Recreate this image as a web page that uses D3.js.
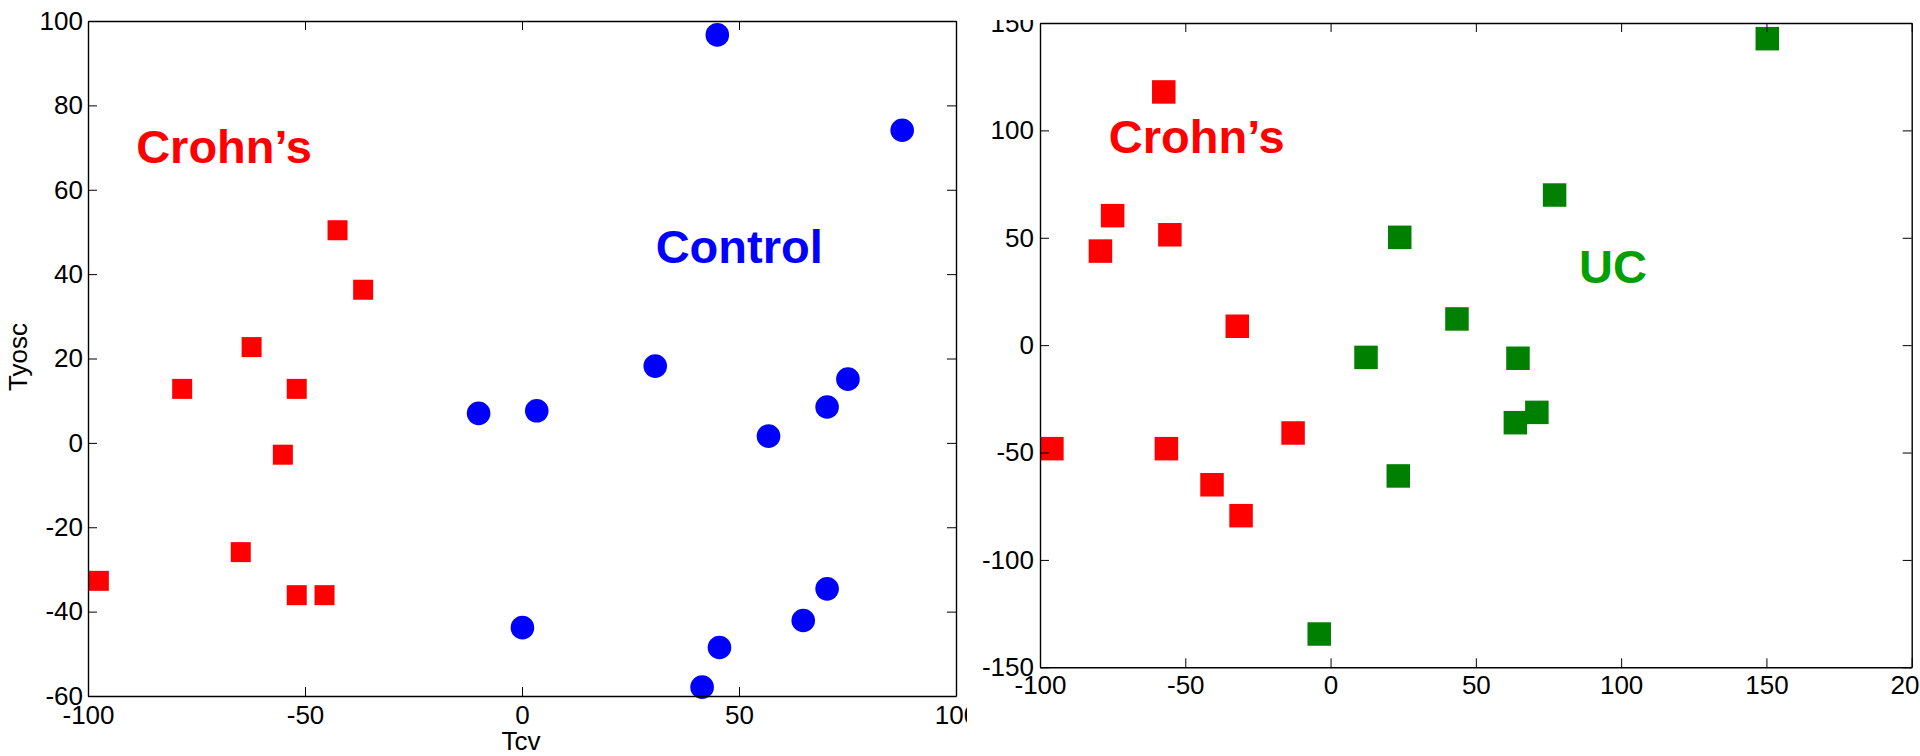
<!DOCTYPE html>
<html>
<head>
<meta charset="utf-8">
<script src="https://cdn.jsdelivr.net/npm/d3@7"></script>
<style>
  body { margin: 0; background: #fff; }
  svg { display: block; font-family: "Liberation Sans", Arial, sans-serif; }
</style>
</head>
<body>
<div id="chart"></div>
<script>
// left panel: Tcv vs Tyosc, Crohn's vs Control
var crohnL_x = [-42.5, -36.6, -62.3, -78.3, -51.9, -55.1, -64.8, -97.5, -51.9, -45.5];
var crohnL_y = [50.4, 36.3, 22.7, 12.8, 12.8, -2.8, -25.9, -32.7, -36.1, -36.1];
var control_x = [45.0, 87.6, 30.7, 75.1, -10.0, 3.4, 56.8, 70.3, 70.3, 64.8, 45.5, 41.5, 0.1];
var control_y = [96.7, 74.1, 18.2, 15.1, 7.0, 7.6, 1.6, 8.5, -34.6, -42.1, -48.5, -57.9, -43.8];

// right panel: Crohn's vs UC
var crohnR_x = [-57.4, -75.0, -79.2, -55.3, -32.1, -95.9, -56.5, -40.8, -30.8, -12.9];
var crohnR_y = [117.9, 60.3, 43.8, 51.4, 8.8, -48.2, -48.2, -65.0, -79.4, -40.9];
var uc_x = [23.8, 12.2, 43.5, 150.3, 77.1, 64.5, 63.6, 71.0, 23.3, -3.9];
var uc_y = [50.2, -5.7, 12.2, 142.7, 69.9, -6.1, -36.1, -31.3, -60.9, -134.5];

var leftXTicks = [-100, -50, 0, 50, 100];
var leftYTicks = [-60, -40, -20, 0, 20, 40, 60, 80, 100];
var rightXTicks = [-100, -50, 0, 50, 100, 150, 200];
var rightYTicks = [-150, -100, -50, 0, 50, 100, 150];

var svg = d3.select('#chart').append('svg')
  .attr('width', 1920)
  .attr('height', 756);

// plain hyphen like matlab, not the unicode minus d3 uses
var fmt = d => String(d);
var fs = 26;

function drawAxes(g, x, y, xt, yt, padX, padY) {
  var tick = -9;
  g.append('g')
    .attr('transform', 'translate(0,' + y.range()[0] + ')')
    .call(d3.axisBottom(x).tickValues(xt).tickFormat(fmt).tickSizeInner(tick).tickSizeOuter(0).tickPadding(padX));
  g.append('g')
    .attr('transform', 'translate(' + x.range()[0] + ',0)')
    .call(d3.axisLeft(y).tickValues(yt).tickFormat(fmt).tickSizeInner(tick).tickSizeOuter(0).tickPadding(padY));
  g.append('g')
    .attr('transform', 'translate(0,' + y.range()[1] + ')')
    .call(d3.axisTop(x).tickValues(xt).tickSizeInner(tick).tickSizeOuter(0).tickFormat(''));
  g.append('g')
    .attr('transform', 'translate(' + x.range()[1] + ',0)')
    .call(d3.axisRight(y).tickValues(yt).tickSizeInner(tick).tickSizeOuter(0).tickFormat(''));
  g.selectAll('.domain').attr('stroke', '#000').attr('stroke-width', 1.4);
  g.selectAll('.tick line').attr('stroke', '#000').attr('stroke-width', 1);
  g.selectAll('.tick text').attr('font-size', fs).attr('fill', '#000')
    .attr('font-family', '"Liberation Sans", Arial, sans-serif');
}

function squares(g, xs, ys, x, y, size, color) {
  g.selectAll(null).data(xs).enter().append('rect')
    .attr('x', (d, i) => x(d) - size / 2)
    .attr('y', (d, i) => y(ys[i]) - size / 2)
    .attr('width', size)
    .attr('height', size)
    .attr('fill', color);
}

// ---- left panel ----
var xL = d3.scaleLinear().domain([-100, 100]).range([88, 956]);
var yL = d3.scaleLinear().domain([-60, 100]).range([696, 21]);
var left = svg.append('g');

squares(left, crohnL_x, crohnL_y, xL, yL, 20, '#ff0000');
left.selectAll(null).data(control_x).enter().append('circle')
  .attr('cx', d => xL(d))
  .attr('cy', (d, i) => yL(control_y[i]))
  .attr('r', 11.8)
  .attr('fill', '#0000ff');

drawAxes(left, xL, yL, leftXTicks, leftYTicks, 10, 5);

left.append('text')
  .attr('x', xL(-88.9)).attr('y', yL(66.3))
  .attr('font-size', 47).attr('font-weight', 'bold').attr('fill', '#ff0000')
  .text('Crohn\u2019s');
left.append('text')
  .attr('x', xL(30.8)).attr('y', yL(42.6))
  .attr('font-size', 47).attr('font-weight', 'bold').attr('fill', '#0000ff')
  .text('Control');

left.append('text')
  .attr('x', 521).attr('y', 750)
  .attr('text-anchor', 'middle').attr('font-size', fs)
  .text('Tcv');
left.append('text')
  .attr('transform', 'translate(27,357) rotate(-90)')
  .attr('text-anchor', 'middle').attr('font-size', fs)
  .text('Tyosc');

// ---- right panel (separate image pasted over the left one) ----
svg.append('clipPath').attr('id', 'rclip')
  .append('rect').attr('x', 967).attr('y', 20).attr('width', 953).attr('height', 736);
var right = svg.append('g').attr('clip-path', 'url(#rclip)');
right.append('rect').attr('x', 967).attr('y', 20).attr('width', 953).attr('height', 736).attr('fill', '#fff');

var xR = d3.scaleLinear().domain([-100, 200]).range([1040, 1911.7]);
var yR = d3.scaleLinear().domain([-150, 150]).range([667.3, 23]);

squares(right, crohnR_x, crohnR_y, xR, yR, 23.5, '#ff0000');
squares(right, uc_x, uc_y, xR, yR, 23.5, '#008000');

drawAxes(right, xR, yR, rightXTicks, rightYTicks, 8, 6);

right.append('text')
  .attr('x', xR(-76.3)).attr('y', yR(89.6))
  .attr('font-size', 47).attr('font-weight', 'bold').attr('fill', '#ff0000')
  .text('Crohn\u2019s');
right.append('text')
  .attr('x', xR(85.5)).attr('y', yR(28.8))
  .attr('font-size', 47).attr('font-weight', 'bold').attr('fill', '#00a000')
  .text('UC');
</script>
</body>
</html>
